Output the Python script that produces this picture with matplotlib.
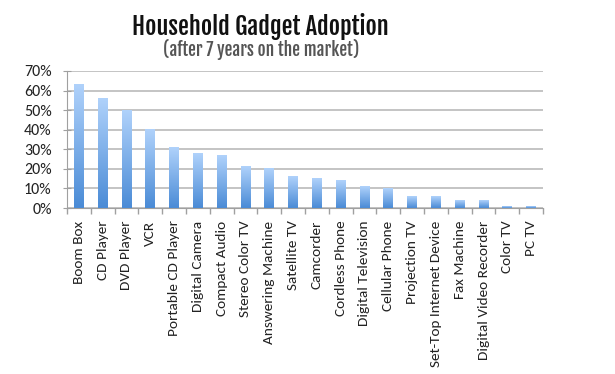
import numpy as np
import matplotlib
matplotlib.use("Agg")
from matplotlib import pyplot as plt
from matplotlib.colors import LinearSegmentedColormap
from matplotlib.ticker import PercentFormatter, FixedLocator

gadgets = ["Boom Box", "CD Player", "DVD Player", "VCR", "Portable CD Player",
           "Digital Camera", "Compact Audio", "Stereo Color TV", "Answering Machine",
           "Satellite TV", "Camcorder", "Cordless Phone", "Digital Television",
           "Cellular Phone", "Projection TV", "Set-Top Internet Device",
           "Fax Machine", "Digital Video Recorder", "Color TV", "PC TV"]
adoption = [63, 56, 50, 40, 31, 28, 27, 21, 20, 16, 15, 14, 11, 10, 6, 6, 4, 4, 1, 1]

label_font = ["Carlito", "Open Sans", "DejaVu Sans"]
title_font = ["Fjalla One", "Asap Condensed", "DejaVu Sans"]

fig = plt.figure(figsize=(6.15, 3.74), dpi=100)
ax = fig.add_axes([67/615, 1 - 208/374, (543-67)/615, (208-71)/374])

x = np.arange(len(gadgets))
bar_w = 0.42
# light at the top, darker at the base
cmap = LinearSegmentedColormap.from_list("grad", ["#4a8bd6", "#b0d2fb"])
grad = np.linspace(0, 1, 256).reshape(-1, 1)

bars = ax.bar(x, adoption, width=bar_w, color="none", zorder=3)
for b in bars:
    x0, h = b.get_x(), b.get_height()
    ax.imshow(grad, cmap=cmap, origin="lower", aspect="auto",
              extent=[x0, x0 + bar_w, 0, h], zorder=3)

ax.set_xlim(-0.5, len(gadgets) - 0.5)
ax.set_ylim(0, 70)
ax.set_yticks(range(0, 71, 10))
ax.yaxis.set_major_formatter(PercentFormatter(decimals=0))
ax.yaxis.grid(True, color="#b4b4b4", linewidth=1.1, zorder=0)
ax.set_axisbelow(True)

ax.set_xticks(x)
ax.set_xticklabels(gadgets, rotation=90, fontsize=11, family=label_font, color="#222222")
ax.tick_params(axis="x", length=0, pad=9)
ax.xaxis.set_minor_locator(FixedLocator(np.arange(-0.5, len(gadgets), 1)))
ax.tick_params(axis="x", which="minor", length=4, color="#a0a0a0", width=1)
ax.tick_params(axis="y", direction="inout", length=6, color="#a0a0a0",
               pad=8, labelsize=11.5, labelcolor="#222222")
for lab in ax.get_yticklabels():
    lab.set_family(label_font)

for s in ["top", "right"]:
    ax.spines[s].set_visible(False)
ax.spines["left"].set_color("#a0a0a0")
ax.spines["bottom"].set_color("#a0a0a0")

fig.text(0.424, 1 - 26/374, "Household Gadget Adoption", ha="center", va="center",
         fontsize=17.6, fontweight="bold", family=title_font, color="#111111")
fig.text(0.424, 1 - 49.5/374, "(after 7 years on the market)", ha="center", va="center",
         fontsize=12.5, fontweight="bold", family=title_font, color="#555555")

fig.savefig("out.png", dpi=100)
